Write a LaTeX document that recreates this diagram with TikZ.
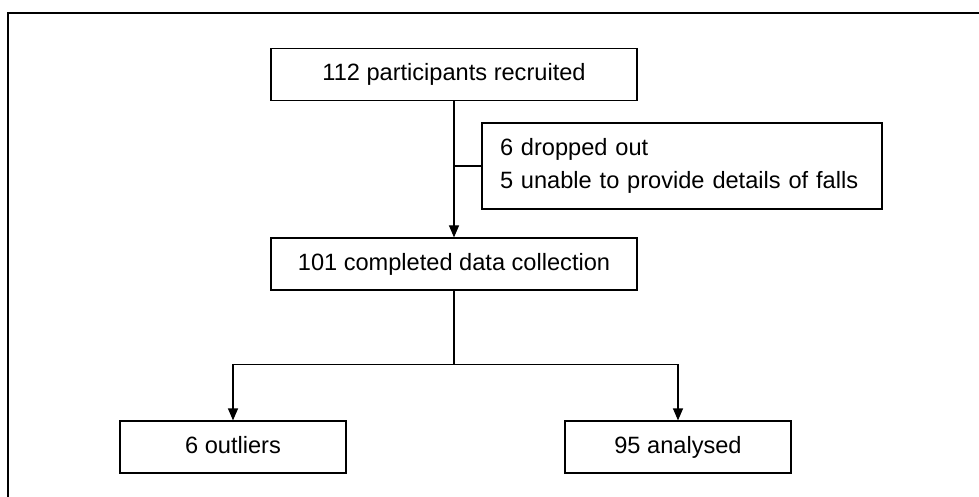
\documentclass[tikz,border=0pt]{standalone}
\usepackage{fontspec}
\setmainfont{Liberation Sans}
\usepackage{tikz}
\usetikzlibrary{arrows.meta}

\begin{document}
\begin{tikzpicture}[
    x=0.5pt, y=-0.5pt,
    box/.style={rectangle, draw, line width=0.6pt, minimum width=183pt, minimum height=26pt, text height=8.6pt, text depth=2.4pt, align=center, inner sep=0pt, font=\fontsize{11.8}{16.5}\selectfont},
    notebox/.style={rectangle, draw, line width=0.6pt, text width=182pt, inner xsep=9pt, minimum height=43pt, align=left, font=\fontsize{11.8}{16.5}\selectfont},
    endbox/.style={box, minimum width=113pt},
    arrow/.style={-{Triangle[length=6pt, width=5pt]}, line width=0.6pt},
    line/.style={line width=0.6pt}
]

% Page and frame
\clip (0,0) rectangle (979,497);
\draw[line width=0.8pt] (8,13) rectangle (1000,520);

% Recruitment and exclusions
\node[box] (recruited) at (454, 74.5) {112 participants recruited};
\node[notebox] (excluded) at (682, 166) {6 dropped out\\5 unable to provide details of falls};
\node[box] (completed) at (454, 264) {101 completed data collection};

\draw[arrow] (recruited) -- (completed);
\draw[line] (excluded.west) -- (excluded.west -| recruited.south);

% Analysis split
\node[endbox] (outliers) at (233, 447) {6 outliers};
\node[endbox] (analysed) at (678, 447) {95 analysed};

\draw[line] (completed.south) -- ++(0,74) coordinate (split);
\draw[arrow] (split) -| (outliers);
\draw[arrow] (split) -| (analysed);

\end{tikzpicture}
\end{document}
